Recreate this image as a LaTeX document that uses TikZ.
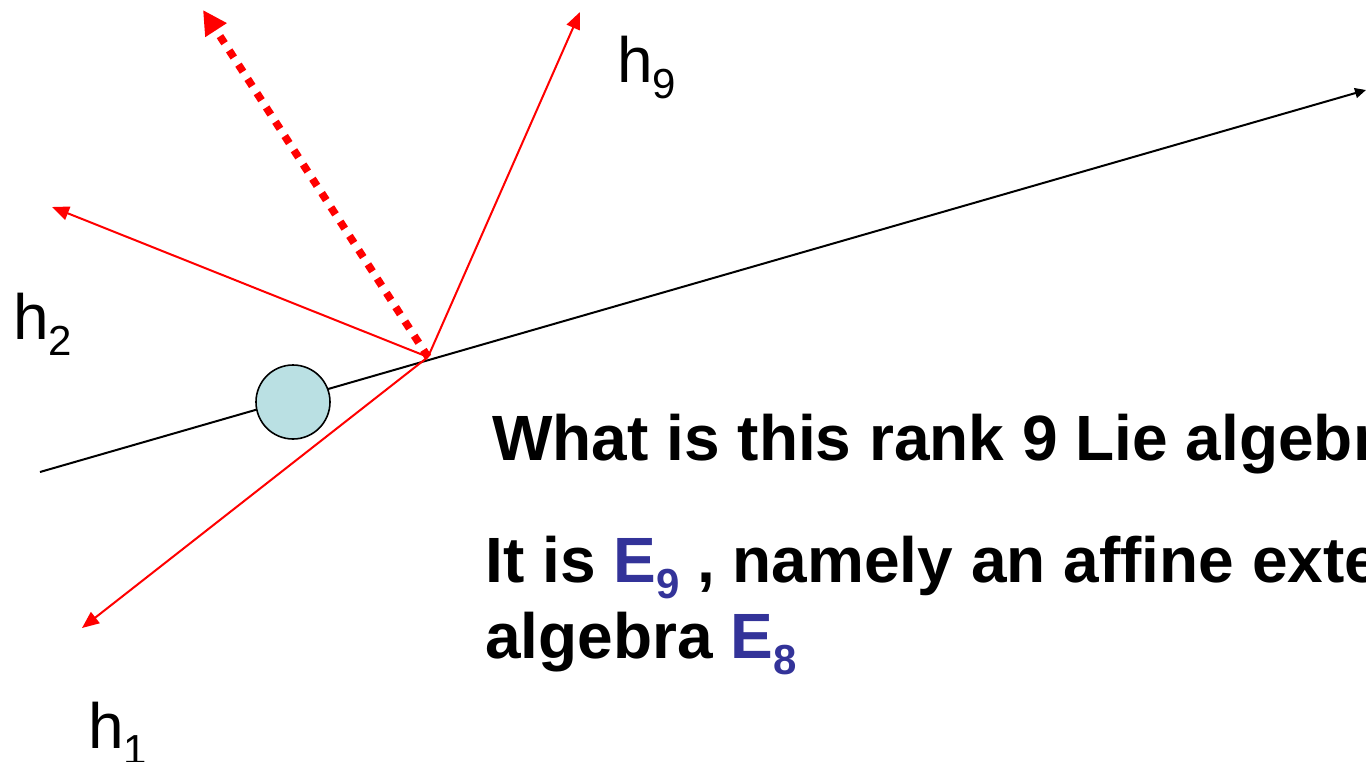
\documentclass[tikz,border=0pt]{standalone}
\usepackage{fontspec}
\setmainfont{Liberation Sans}
\usepackage{tikz}
\usetikzlibrary{arrows.meta}
\definecolor{rootred}{HTML}{FF0000}
\definecolor{ballc}{HTML}{BAE0E3}
\definecolor{ename}{HTML}{333399}
\newcommand{\lowsub}[1]{\raisebox{-8pt}{\fontsize{21}{24}\selectfont #1}}

\begin{document}
\begin{tikzpicture}[x=0.5pt,y=-0.5pt,
    root/.style={rootred,line width=1pt,-{Triangle[length=8.5pt,width=7pt]}},
    wall/.style={rootred,line width=3.8pt,dash pattern=on 4.2pt off 4.3pt,-{Triangle[length=12pt,width=12pt]}},
    lab/.style={anchor=base west,inner sep=0pt,font=\fontsize{32}{38}\selectfont},
    say/.style={anchor=base west,inner sep=0pt,font=\bfseries\fontsize{32}{38}\selectfont}]
  \clip (0,0) rectangle (1366,761);
  \coordinate (start) at (40,472);
  \coordinate (far) at (1366,90);
  \coordinate (O) at (428,357);
  \draw[line width=1pt,-{Triangle[length=5.5pt,width=5pt]}] (start) -- (far);
  \node[circle,draw,line width=0.8pt,fill=ballc,minimum size=37pt,inner sep=0pt] (ball) at (293,402) {};
  \foreach \nm/\tx/\ty/\lx/\ly/\k in {
      h9/580/12/617/82/9,
      h2/52/207/13/339/2,
      h1/82/628/88/748/1} {
    \coordinate (\nm) at (\tx,\ty);
    \draw[root] (O) -- (\nm);
    \node[lab] (\nm-lab) at (\lx,\ly) {h\lowsub{\k}};
  }
  \coordinate (wtip) at (203,10);
  \draw[wall] (O) -- (wtip);
  \node[say] (ask) at (492,460) {What is this rank 9 Lie algebra?};
  \node[say] (ans) at (485,582) {It is \textcolor{ename}{E\lowsub{9}} , namely an affine extension};
  \node[say] (ans2) at (485,658) {algebra \textcolor{ename}{E\lowsub{8}}};
\end{tikzpicture}
\end{document}
